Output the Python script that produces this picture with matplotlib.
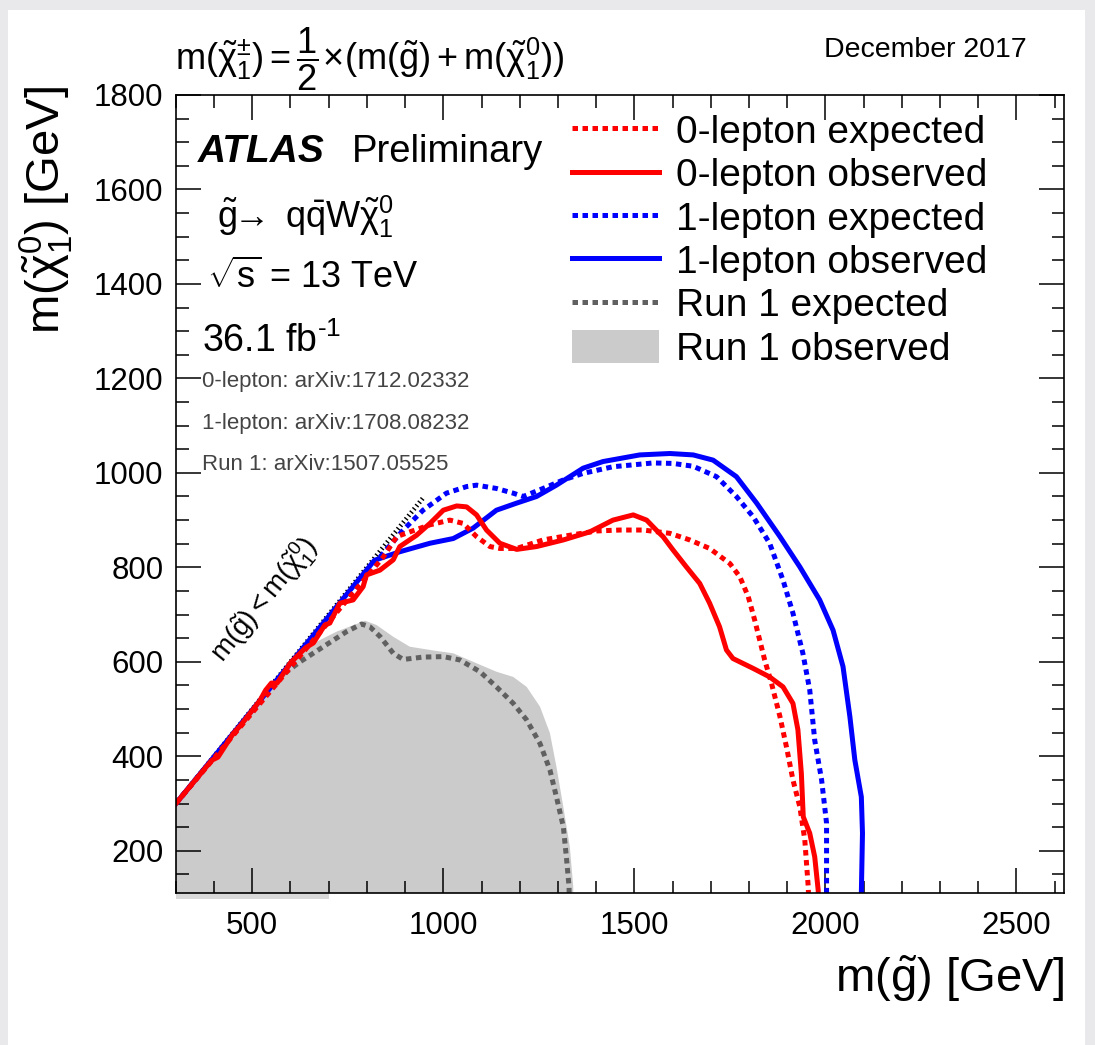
import matplotlib
matplotlib.use("Agg")
import matplotlib.pyplot as plt
from matplotlib.ticker import MultipleLocator
from matplotlib.patches import Rectangle
import matplotlib.transforms as mtransforms

plt.rcParams['font.family'] = ['Liberation Sans', 'DejaVu Sans']
plt.rcParams['mathtext.fontset'] = 'custom'
plt.rcParams['mathtext.rm'] = 'Liberation Sans'
plt.rcParams['mathtext.it'] = 'Liberation Sans:italic'
plt.rcParams['mathtext.bf'] = 'Liberation Sans:bold'
plt.rcParams['mathtext.sf'] = 'Liberation Sans'

# exclusion contours, m(gluino) vs m(neutralino) in GeV
zero_lep_exp_x = [300, 843, 878, 912, 965, 1017, 1052, 1087, 1122, 1148, 1192, 1261, 1331, 1401,
                  1462, 1523, 1593, 1645, 1697, 1750, 1776, 1798, 1815, 1841, 1859, 1881, 1898,
                  1915, 1933, 1946, 1955, 1957]
zero_lep_exp_y = [300, 822, 865, 875, 890, 900, 893, 865, 844, 840, 840, 858, 868, 877,
                  879, 879, 872, 858, 840, 808, 780, 738, 688, 604, 554, 484, 420,
                  350, 293, 223, 124, 80]

zero_lep_obs_x = [300, 380, 395, 410, 450, 470, 520, 535, 550, 565, 600, 640, 660, 690, 703,
                  729, 764, 790, 799, 834, 869, 886, 930, 965, 1000, 1035, 1061, 1087, 1113,
                  1148, 1192, 1244, 1314, 1383, 1444, 1497, 1532, 1562, 1575, 1601, 1636, 1671,
                  1697, 1723, 1741, 1758, 1811, 1854, 1889, 1915, 1928, 1937, 1942, 1959, 1972,
                  1981, 1983]
zero_lep_obs_y = [300, 378, 392, 398, 448, 466, 518, 540, 555, 555, 598, 630, 640, 678, 682,
                  724, 731, 759, 784, 794, 816, 844, 868, 893, 921, 930, 928, 911, 879,
                  851, 838, 844, 858, 875, 900, 911, 900, 875, 865, 837, 801, 766,
                  724, 674, 625, 607, 586, 568, 547, 512, 456, 364, 272, 237, 187,
                  117, 80]

one_lep_exp_x = [300, 843, 895, 947, 1008, 1061, 1087, 1139, 1183, 1209, 1261, 1314, 1366, 1444,
                 1549, 1601, 1654, 1715, 1767, 1811, 1854, 1889, 1915, 1941, 1959, 1972, 1990,
                 2003, 2003, 2003]
one_lep_exp_y = [300, 830, 879, 921, 957, 971, 974, 967, 957, 950, 967, 985, 999, 1013,
                 1021, 1020, 1014, 992, 950, 907, 851, 773, 703, 618, 540, 434, 350,
                 258, 124, 80]

one_lep_obs_x = [300, 820, 886, 965, 1026, 1078, 1139, 1192, 1244, 1296, 1366, 1418, 1514, 1593,
                 1654, 1706, 1767, 1820, 1881, 1933, 1985, 2020, 2046, 2064, 2077, 2094, 2097,
                 2094, 2094]
one_lep_obs_y = [300, 815, 833, 851, 861, 883, 921, 936, 950, 974, 1010, 1024, 1038, 1041,
                 1038, 1027, 992, 936, 865, 801, 731, 667, 590, 484, 392, 314, 237,
                 110, 80]

run1_exp_x = [300, 572, 625, 686, 747, 786, 808, 835, 869, 895, 947, 1000, 1043, 1096, 1139,
              1183, 1218, 1253, 1279, 1296, 1314, 1322, 1329, 1330]
run1_exp_y = [300, 568, 600, 632, 664, 680, 674, 653, 618, 605, 610, 611, 604, 579, 547,
              512, 477, 427, 371, 314, 251, 187, 124, 80]

run1_obs_x = [300, 598, 660, 721, 795, 825, 869, 912, 974, 1026, 1078, 1139, 1183, 1218, 1253,
              1279, 1296, 1314, 1331, 1340, 1342, 300]
run1_obs_y = [300, 590, 639, 664, 687, 678, 653, 632, 624, 618, 600, 579, 568, 547, 505,
              449, 378, 293, 209, 124, 0, 0]

diag_x = [300, 948]
diag_y = [300, 948]

labels = ['0-lepton expected', '0-lepton observed', '1-lepton expected',
          '1-lepton observed', 'Run 1 expected', 'Run 1 observed']
arxiv_lines = ['0-lepton: arXiv:1712.02332', '1-lepton: arXiv:1708.08232',
               'Run 1: arXiv:1507.05525']

fig = plt.figure(figsize=(10.95, 10.45), dpi=100)
fig.patch.set_facecolor('#e9e9eb')
fig.add_artist(Rectangle((0.0075, 0.0), 0.9835, 0.9905, transform=fig.transFigure,
                         facecolor='white', edgecolor='none', zorder=0))

ax = fig.add_axes([0.1606, 0.1452, 0.8113, 0.7639])
ax.set_xlim(300, 2625)
ax.set_ylim(110, 1800)

dots = (0, (1.1, 0.9))
obs = ax.fill(run1_obs_x, run1_obs_y, color='#cbcbcb', lw=0, label=labels[5])[0]
l5, = ax.plot(run1_exp_x, run1_exp_y, color='#606060', lw=3.6, ls=dots, label=labels[4])
ax.plot(diag_x, diag_y, color='black', lw=3.4, ls=(0, (0.3, 0.6)))
l3, = ax.plot(one_lep_exp_x, one_lep_exp_y, color='#0000ff', lw=3.6, ls=dots, label=labels[2])
l4, = ax.plot(one_lep_obs_x, one_lep_obs_y, color='#0000ff', lw=3.6, label=labels[3])
l1, = ax.plot(zero_lep_exp_x, zero_lep_exp_y, color='#ff0000', lw=3.6, ls=dots, label=labels[0])
l2, = ax.plot(zero_lep_obs_x, zero_lep_obs_y, color='#ff0000', lw=3.6, label=labels[1])

# little grey strip under the axis, as in the original render
strip = Rectangle((300, -0.007), 400, 0.007,
                  transform=mtransforms.blended_transform_factory(ax.transData, ax.transAxes),
                  facecolor='#d9d9d9', edgecolor='none', clip_on=False)
ax.add_patch(strip)

ax.xaxis.set_major_locator(MultipleLocator(500))
ax.xaxis.set_minor_locator(MultipleLocator(100))
ax.yaxis.set_major_locator(MultipleLocator(200))
ax.yaxis.set_minor_locator(MultipleLocator(50))
ax.tick_params(which='both', direction='in', top=True, right=True, width=1.1, labelsize=22.5)
ax.tick_params(which='major', length=18)
ax.tick_params(which='minor', length=9)
ax.tick_params(axis='x', which='major', pad=13)
ax.tick_params(axis='y', which='major', pad=9)
for s in ax.spines.values():
    s.set_linewidth(1.2)

ax.set_xlabel(r'$\mathrm{m(\tilde{g})\ [GeV]}$', fontsize=34, loc='right')
ax.xaxis.set_label_coords(1.0, -0.075)
ax.xaxis.label.set_va('top')
ax.set_ylabel(r'$\mathrm{m(\tilde{\chi}_1^0)\ [GeV]}$', fontsize=34, loc='top')
ax.yaxis.set_label_coords(-0.113, 1.012)

fig.text(0.16, 0.933,
         r'$\mathrm{m(\tilde{\chi}_1^{\pm})=\dfrac{1}{2}\!\times\!(m(\tilde{g})+m(\tilde{\chi}_1^{0}))}$',
         fontsize=26, va='baseline', ha='left')
fig.text(0.938, 0.952, 'December 2017', fontsize=20.5, va='center', ha='right')

ax.text(0.0249, 0.916, 'ATLAS', transform=ax.transAxes, fontsize=28,
        fontweight='bold', fontstyle='italic', va='baseline')
ax.text(0.198, 0.916, 'Preliminary', transform=ax.transAxes, fontsize=27.5, va='baseline')
ax.text(0.046, 0.834, r'$\mathrm{\tilde{g}\!\!\rightarrow\ q\bar{q}W\tilde{\chi}_1^0}$',
        transform=ax.transAxes, fontsize=26, va='baseline')
ax.text(0.035, 0.758, r'$\sqrt{\mathrm{s}}$ = 13 TeV', transform=ax.transAxes, fontsize=26,
        va='baseline')
ax.text(0.029, 0.678, r'36.1 fb$^{\text{-1}}$', transform=ax.transAxes, fontsize=27,
        va='baseline')
for i, t in enumerate(arxiv_lines):
    ax.text(0.029, 0.634 - i * 0.052, t, transform=ax.transAxes, fontsize=16,
            color='#444444', va='baseline')

ax.text(533, 731, r'$\mathrm{m(\tilde{g})<m(\tilde{\chi}_1^0)}$', fontsize=20,
        rotation=51, rotation_mode='anchor', ha='center', va='center')

ax.legend(handles=[l1, l2, l3, l4, l5, obs], labels=labels, loc='upper left',
          bbox_to_anchor=(0.4455, 0.977), frameon=False, fontsize=28, borderpad=0,
          borderaxespad=0, handlelength=2.24, handletextpad=0.44, labelspacing=0.15,
          handleheight=0.9)

fig.savefig('out.png', dpi=100, facecolor=fig.get_facecolor())
